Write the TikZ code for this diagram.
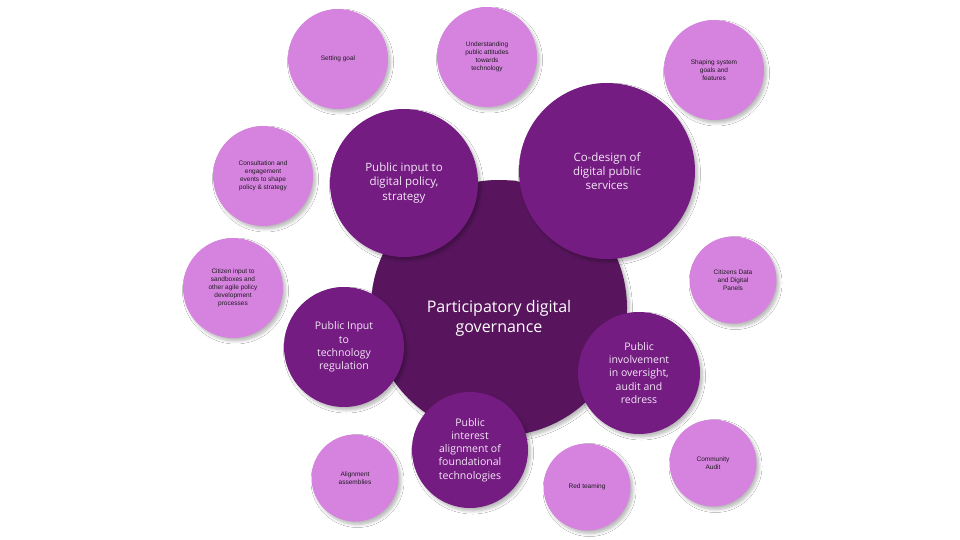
\documentclass[tikz,border=0pt]{standalone}
\usepackage{fontspec}
\setmainfont{Liberation Sans}
\newfontfamily\bigfont{Open Sans}
\usetikzlibrary{shadows.blur}
\definecolor{central}{HTML}{58155E}
\definecolor{midp}{HTML}{741C82}
\definecolor{lightp}{HTML}{D683E0}
\definecolor{midtext}{HTML}{F3E6F5}
\definecolor{smalltext}{HTML}{1E1A20}
\tikzset{
  shade/.style={blur shadow={shadow xshift=2.5pt,shadow yshift=-3pt,shadow blur steps=6,shadow blur radius=3pt,shadow opacity=28}},
  centre/.style={circle,fill=central,draw=none,minimum size=#1,inner sep=0pt,shade},
  centretext/.style={text=white,align=center,font=\bigfont\fontsize{16}{20}\selectfont},
  midc/.style={circle,fill=midp,draw=none,minimum size=#1,inner sep=0pt,text=midtext,align=center,font=\bigfont\fontsize{10.5}{13.2}\selectfont,shade},
  smallc/.style={circle,fill=lightp,draw=none,minimum size=#1,inner sep=0pt,text=smalltext,align=center,font=\fontsize{6.5}{8}\selectfont,shade}
}
\begin{document}
\begin{tikzpicture}[x=1pt,y=-1pt]
\useasboundingbox[fill=white] (0,0) rectangle (960,540);
% central
\node[centre=256pt] (core) at (499,308) {};
\node[centretext] (coretext) at (499,318) {Participatory digital\\governance};
% mid circles
\node[midc=148pt,font=\bigfont\fontsize{11.5}{14.5}\selectfont] (policy) at (404,183) {Public input to\\digital policy,\\strategy};
\node[midc=176pt,font=\bigfont\fontsize{11.5}{14}\selectfont] (codesign) at (607,171) {Co-design of\\digital public\\services};
\node[midc=120pt] (regulation) at (344,347) {Public Input\\to\\technology\\regulation};
\node[midc=122pt] (oversight) at (639,373) {Public\\involvement\\in oversight,\\audit and\\redress};
\node[midc=116pt] (alignment) at (470,450) {Public\\interest\\alignment of\\foundational\\technologies};
% small circles
\node[smallc=100pt] (goal) at (338,59) {Setting goal};
\node[smallc=100pt] (attitudes) at (487,57) {Understanding\\public attitudes\\towards\\technology};
\node[smallc=100pt] (shaping) at (714,70) {Shaping system\\goals and\\features};
\node[smallc=100pt] (consult) at (263,176) {Consultation and\\engagement\\events to shape\\policy \& strategy};
\node[smallc=100pt] (sandbox) at (233,288) {Citizen input to\\sandboxes and\\other agile policy\\development\\processes};
\node[smallc=87pt] (panels) at (733,280) {Citizens Data\\and Digital\\Panels};
\node[smallc=87pt] (assemblies) at (355,478) {Alignment\\assemblies};
\node[smallc=87pt] (redteam) at (587,487) {Red teaming};
\node[smallc=87pt] (audit) at (713,463) {Community\\Audit};
\end{tikzpicture}
\end{document}
